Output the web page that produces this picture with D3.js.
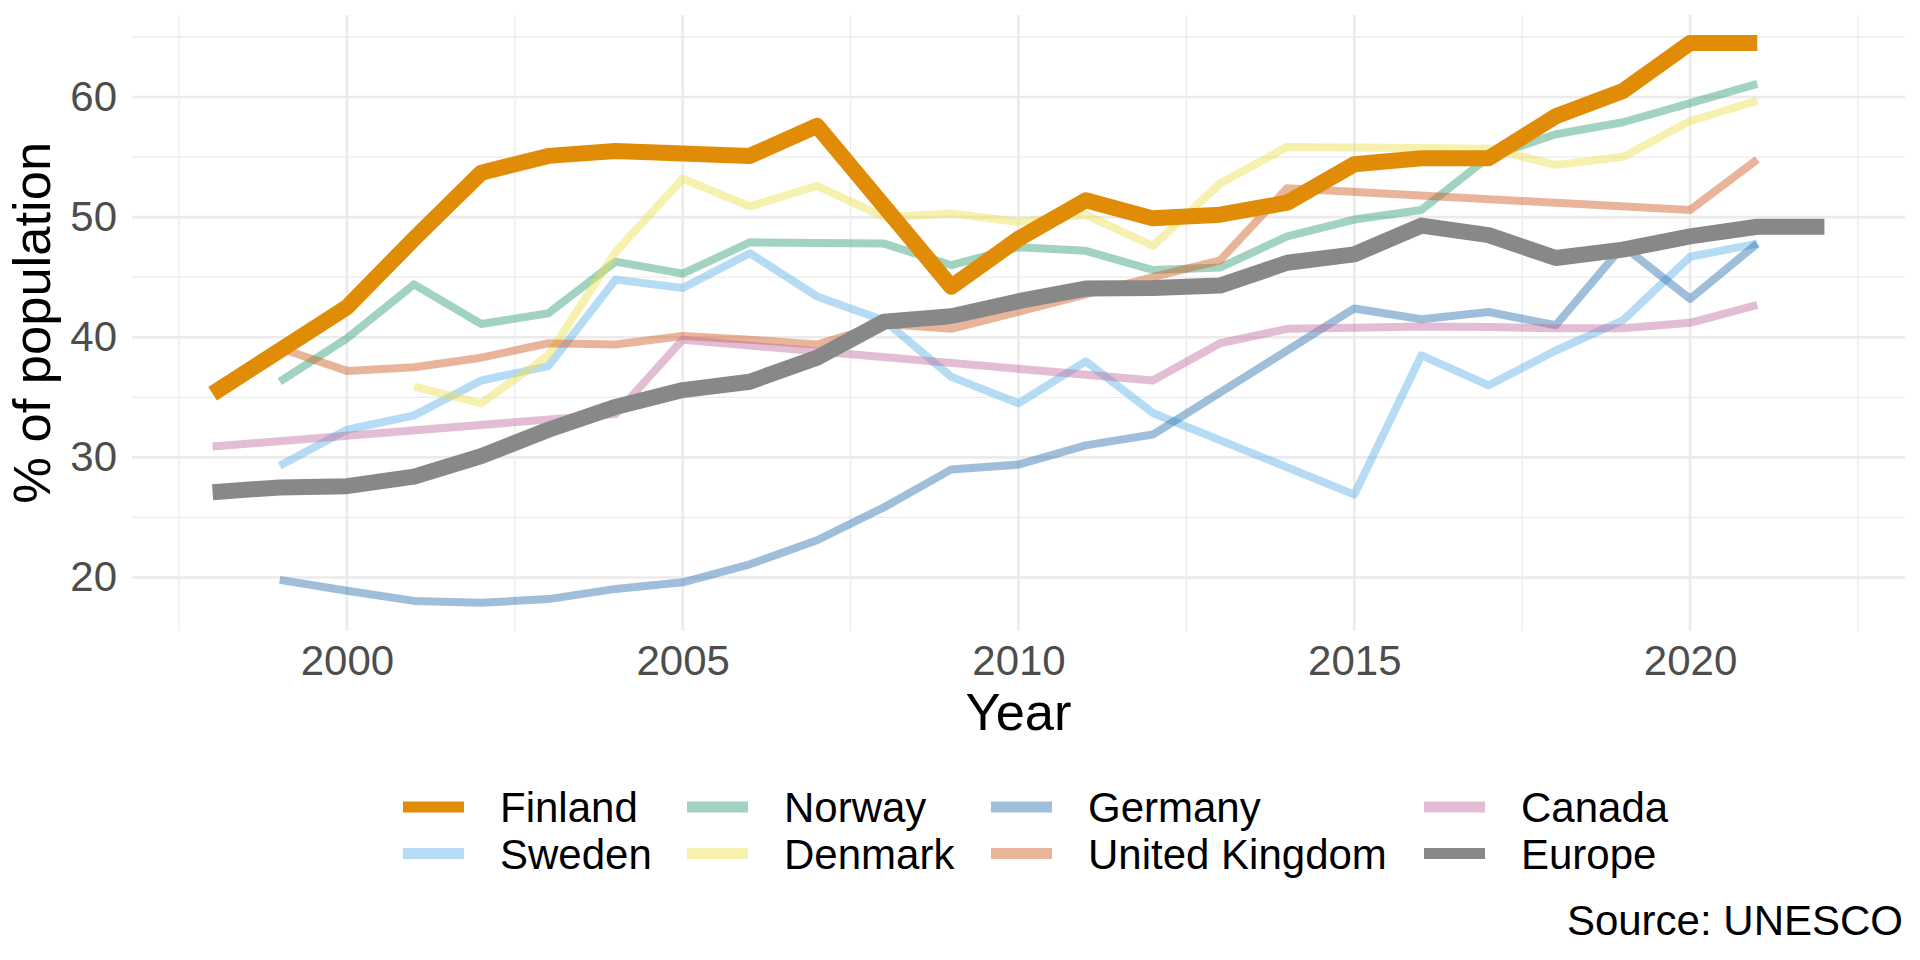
<!DOCTYPE html>
<html>
<head>
<meta charset="utf-8">
<title>% of population</title>
<script src="https://cdn.jsdelivr.net/npm/d3@7"></script>
<style>
body{
	margin: 0;
	background: #fff;
}
text{
	font-family: "Liberation Sans", Arial, Helvetica, sans-serif;
}
</style>
</head>
<body>
<svg class="chart"></svg>

<script>

//data, one value per year (null = no value that year)
var years = [1998,1999,2000,2001,2002,2003,2004,2005,2006,2007,2008,2009,2010,
	2011,2012,2013,2014,2015,2016,2017,2018,2019,2020,2021,2022];

var finland = [35.3,38.9,42.5,48.2,53.7,55.1,55.5,55.3,55.1,57.6,null,44.2,48.2,
	51.4,49.9,50.2,51.2,54.4,54.9,54.9,58.4,60.5,64.5,64.5,null];
var sweden = [null,29.3,32.3,33.5,36.4,37.6,44.8,44.1,47.0,43.4,41.4,36.7,34.5,
	38.0,33.7,null,null,26.9,38.5,36.0,38.9,41.4,46.7,47.8,null];
var norway = [null,36.3,39.9,44.4,41.1,42.0,46.3,45.3,47.9,47.85,47.8,46.0,47.5,
	47.2,45.6,45.8,48.4,49.8,50.6,55.0,56.9,57.9,59.5,61.1,null];
var denmark = [null,null,null,35.9,34.5,38.5,47.1,53.2,50.9,52.6,50.0,50.3,49.6,
	50.2,47.6,52.8,55.85,55.8,55.75,55.7,54.35,55.0,58.0,59.7,null];
var germany = [null,19.8,18.9,18.05,17.9,18.2,19.05,19.6,21.1,23.1,25.85,29.0,29.4,
	31.0,31.9,null,null,42.4,41.5,42.1,41.0,47.6,43.2,47.8,null];
var uk = [null,39.1,37.2,37.5,38.3,39.5,39.4,40.1,39.8,39.4,41.1,40.7,null,
	null,45.0,46.4,52.4,null,null,null,null,null,50.6,54.8,null];
var canada = [30.9,null,null,null,null,null,33.6,39.8,null,null,null,null,null,
	null,36.4,39.5,40.7,40.8,40.9,40.85,40.75,40.75,41.2,42.7,null];
var europe = [27.1,27.5,27.6,28.4,30.1,32.3,34.2,35.6,36.3,38.3,41.3,41.75,43.0,
	44.05,44.1,44.3,46.2,46.9,49.3,48.5,46.6,47.3,48.4,49.2,49.2];

var seriesNames = ["Finland","Sweden","Norway","Denmark","Germany","United Kingdom","Canada","Europe"];
var seriesValues = [finland, sweden, norway, denmark, germany, uk, canada, europe];

var xTicks = [2000, 2005, 2010, 2015, 2020];
var yTicks = [20, 30, 40, 50, 60];

// styles
var colors = ["#e08c06","#5bb1e7","#309d75","#ebe04b","#276fad","#ce5b1f","#c16c9d","#888888"];
var opacity = [1, 0.45, 0.45, 0.45, 0.45, 0.45, 0.45, 1];
var widths = [16, 8, 8, 8, 8, 8, 8, 16];
// thin lines first, then Europe, Finland on top
var drawOrder = [1, 2, 3, 4, 5, 6, 7, 0];

var series = seriesNames.map(function(name, i){
	var pts = [];
	for(var j = 0; j < years.length; j++){
		if(seriesValues[i][j] !== null){
			pts.push({year: years[j], value: seriesValues[i][j]});
		}
	}
	return {name: name, i: i, values: pts};
});

var W = 1920, H = 960;
var panel = {left: 132, right: 1905, top: 15, bottom: 630.7};

var svg = d3.select(".chart")
	.attr("width", W)
	.attr("height", H);

// ggplot style 5% expansion
function expand(ext){
	var pad = (ext[1] - ext[0]) * 0.05;
	return [ext[0] - pad, ext[1] + pad];
}

var allPts = [];
series.forEach(function(s){ allPts = allPts.concat(s.values); });

var x = d3.scaleLinear()
	.domain(expand(d3.extent(allPts, function(d){ return d.year; })))
	.range([panel.left, panel.right]);

var y = d3.scaleLinear()
	.domain(expand(d3.extent(allPts, function(d){ return d.value; })))
	.range([panel.bottom, panel.top]);

//grid
var grid = svg.append("g").attr("class", "grid");

var xMinor = xTicks.map(function(t){ return t - 2.5; }).concat([xTicks[xTicks.length-1] + 2.5]);
var yMinor = yTicks.map(function(t){ return t - 5; }).concat([yTicks[yTicks.length-1] + 5])
	.filter(function(t){ return t >= y.domain()[0] && t <= y.domain()[1]; });

grid.selectAll(".xminor").data(xMinor).enter().append("line")
	.attr("x1", function(d){ return x(d); }).attr("x2", function(d){ return x(d); })
	.attr("y1", panel.top).attr("y2", panel.bottom)
	.attr("stroke", "#ebebeb").attr("stroke-width", 1.3);

grid.selectAll(".yminor").data(yMinor).enter().append("line")
	.attr("x1", panel.left).attr("x2", panel.right)
	.attr("y1", function(d){ return y(d); }).attr("y2", function(d){ return y(d); })
	.attr("stroke", "#ebebeb").attr("stroke-width", 1.3);

grid.selectAll(".xmajor").data(xTicks).enter().append("line")
	.attr("x1", function(d){ return x(d); }).attr("x2", function(d){ return x(d); })
	.attr("y1", panel.top).attr("y2", panel.bottom)
	.attr("stroke", "#ebebeb").attr("stroke-width", 2.6);

grid.selectAll(".ymajor").data(yTicks).enter().append("line")
	.attr("x1", panel.left).attr("x2", panel.right)
	.attr("y1", function(d){ return y(d); }).attr("y2", function(d){ return y(d); })
	.attr("stroke", "#ebebeb").attr("stroke-width", 2.6);

//axes
var xAxis = d3.axisBottom(x).tickValues(xTicks).tickFormat(d3.format("d")).tickSize(0).tickPadding(14.5);
var yAxis = d3.axisLeft(y).tickValues(yTicks).tickSize(0).tickPadding(15);

var gx = svg.append("g")
	.attr("transform", "translate(0," + panel.bottom + ")")
	.call(xAxis);
var gy = svg.append("g")
	.attr("transform", "translate(" + panel.left + ",0)")
	.call(yAxis);

[gx, gy].forEach(function(g){
	g.select(".domain").remove();
	g.selectAll("text")
		.attr("fill", "#4d4d4d")
		.style("font-size", "42px");
});

//lines
var line = d3.line()
	.x(function(d){ return x(d.year); })
	.y(function(d){ return y(d.value); });

svg.append("g").selectAll("path")
	.data(drawOrder.map(function(k){ return series[k]; }))
	.enter()
	.append("path")
	.attr("d", function(d){ return line(d.values); })
	.attr("fill", "none")
	.attr("stroke", function(d){ return colors[d.i]; })
	.attr("stroke-opacity", function(d){ return opacity[d.i]; })
	.attr("stroke-width", function(d){ return widths[d.i]; })
	.attr("stroke-linejoin", "round")
	.attr("stroke-linecap", "butt");

//titles
svg.append("text")
	.attr("x", (panel.left + panel.right) / 2)
	.attr("y", 730)
	.attr("text-anchor", "middle")
	.style("font-size", "52.5px")
	.text("Year");

svg.append("text")
	.attr("transform", "translate(50," + ((panel.top + panel.bottom) / 2) + ") rotate(-90)")
	.attr("text-anchor", "middle")
	.style("font-size", "52.5px")
	.text("% of population");

svg.append("text")
	.attr("x", 1903)
	.attr("y", 935)
	.attr("text-anchor", "end")
	.style("font-size", "42px")
	.text("Source: UNESCO");

//legend, 2 rows filled column by column
var legCols = [403, 687, 991, 1424];
var legRows = [807, 853.5];

var leg = svg.append("g").selectAll("g")
	.data(series)
	.enter()
	.append("g")
	.attr("transform", function(d, i){
		return "translate(" + legCols[Math.floor(i / 2)] + "," + legRows[i % 2] + ")";
	});

leg.append("line")
	.attr("x1", 0).attr("x2", 61)
	.attr("y1", 0).attr("y2", 0)
	.attr("stroke", function(d){ return colors[d.i]; })
	.attr("stroke-opacity", function(d){ return opacity[d.i]; })
	.attr("stroke-width", 11);

leg.append("text")
	.attr("x", 97)
	.attr("y", 15)
	.style("font-size", "42px")
	.text(function(d){ return d.name; });

</script>
</body>
</html>
